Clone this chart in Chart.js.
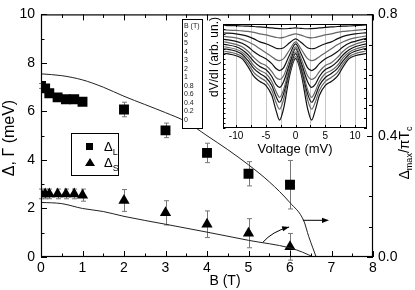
<!DOCTYPE html>
<html><head><meta charset="utf-8">
<script src="https://cdn.jsdelivr.net/npm/chart.js@4/dist/chart.umd.min.js"></script>
<style>
html,body{margin:0;padding:0;background:#fff;}
#wrap{position:relative;width:415px;height:290px;overflow:hidden;font-family:"Liberation Sans",Arial,sans-serif;color:#000;}
canvas{display:block;}
#main{position:absolute;left:0;top:0;}
#inset{position:absolute;left:160px;top:0;}
#blegend{position:absolute;left:182px;top:19px;width:21px;height:110px;border:1px solid #000;background:#fff;font-size:7px;line-height:8.55px;padding:2px 0 0 1px;box-sizing:border-box;white-space:nowrap;color:#222;filter:grayscale(100%);-webkit-font-smoothing:antialiased;}
#legend{position:absolute;left:71px;top:133px;width:48px;height:43px;border:1px solid #000;background:#fff;box-sizing:border-box;filter:grayscale(100%);-webkit-font-smoothing:antialiased;}
.lg{position:absolute;font-size:13px;line-height:14px;}
.lg sub{font-size:9px;vertical-align:0;position:relative;top:4px;}
</style></head>
<body>
<div id="wrap">
  <canvas id="main" width="415" height="290"></canvas>
  <div id="legend">
    <div style="position:absolute;left:14px;top:9px;width:7px;height:7px;background:#000"></div>
    <div class="lg" style="left:32px;top:6px;">Δ<sub>L</sub></div>
    <div style="position:absolute;left:13px;top:24px;width:0;height:0;border-left:5px solid transparent;border-right:5px solid transparent;border-bottom:8px solid #000;"></div>
    <div class="lg" style="left:32px;top:22px;">Δ<sub>S</sub></div>
  </div>
  <canvas id="inset" width="255" height="160"></canvas>
  <div id="blegend"></div>
</div>
<script>
const FONT = "'Liberation Sans', Arial, sans-serif";

// ---- main panel data ----
const B_L    = [0, 0.1, 0.2, 0.4, 0.6, 0.8, 1, 2, 3, 4, 5, 6];
const deltaL = [7.05, 6.95, 6.75, 6.58, 6.5, 6.5, 6.4, 6.08, 5.22, 4.29, 3.43, 2.98];
const errL   = [0.1, 0.1, 0.1, 0.1, 0.1, 0.1, 0.1, 0.3, 0.3, 0.4, 0.5, 1.0];
const B_S    = [0, 0.1, 0.2, 0.4, 0.6, 0.8, 1, 2, 3, 4, 5, 6];
const deltaS = [2.6, 2.6, 2.6, 2.6, 2.6, 2.6, 2.55, 2.33, 1.82, 1.35, 0.98, 0.42];
const errS   = [0.2, 0.2, 0.2, 0.2, 0.2, 0.2, 0.25, 0.45, 0.5, 0.55, 0.6, 0.55];
// theory curves, right axis (Delta_max / pi Tc)
const curveB_L = [0, 0.5, 1, 1.5, 2, 2.5, 3, 3.5, 4, 4.5, 5, 5.5, 6, 6.33, 6.45, 6.55, 6.63];
const curveL   = [0.604, 0.598, 0.584, 0.56, 0.53, 0.503, 0.476, 0.446, 0.40, 0.354, 0.304, 0.248, 0.179, 0.12, 0.068, 0.03, 0];
const curveB_S = [0, 0.5, 1, 1.5, 2, 3, 4, 5, 6, 6.3, 6.45, 6.57];
const curveS   = [0.18, 0.176, 0.16, 0.15, 0.134, 0.108, 0.082, 0.055, 0.03, 0.016, 0.007, 0];
// axis ticks
const xTicks  = [0, 1, 2, 3, 4, 5, 6, 7, 8];
const yTicks  = [0, 2, 4, 6, 8, 10];
const y2Ticks = [0, 0.4, 0.8];
// arrows (B, right-axis value)
const arrowA_B = [6.31, 6.94];        const arrowA_V = [0.121, 0.121];
const arrowB_B = [5.35, 5.57, 5.98];  const arrowB_V = [0.049, 0.084, 0.099];

// ---- inset data ----
const voltage = [-12, -10, -9, -8, -7, -6, -5, -4, -3.3, -2.7, -2, -1, 0, 1, 2, 2.7, 3.3, 4, 5, 6, 7, 8, 9, 10, 12];
const fieldLabels = ['B (T)', '6', '5', '4', '3', '2', '1', '0.8', '0.6', '0.4', '0.2', '0'];
const dVdI_6T   = [103.5,103.3,103,102.8,102.5,102,101.5,101,100.5,100.3,100.2,100.5,101,100.5,100.2,100.3,100.5,101,101.5,102,102.5,102.8,103,103.3,104];
const dVdI_5T   = [99,98.5,98,97.5,96.5,95,94,92.5,91.5,91,91.5,93.5,95,93.5,91.5,91,91.5,92.5,94,95,96.5,97.5,98,98.5,99.7];
const dVdI_4T   = [96,95,94,92.5,90,87,85,82.5,80.5,80,81,86,90,86,81,80,80.5,82.5,85,87,90,92.5,94,95,96.3];
const dVdI_3T   = [92.5,91,89.5,87,84,80,76,72,69,68,70,79,87,79,70,68,69,72,76,80,84,87,89.5,91,93];
const dVdI_2T   = [89.5,87.5,85.5,82,77,73,70,65,60,58,61,74,85,74,61,58,60,65,70,73,77,82,85.5,87.5,90.7];
const dVdI_1T   = [87,84.5,82,77.5,71,66,63,57,51,49,53,69,82,69,53,49,51,57,63,66,71,77.5,82,84.5,88];
const dVdI_08T  = [84.5,82,79,74,67,62,59,52,44,41,47,65,80,65,47,41,44,52,59,62,67,74,79,82,85.3];
const dVdI_06T  = [82,79.5,76.5,71,63,58,55,47,37,31,39,62,77,62,39,31,37,47,55,58,63,71,76.5,79.5,83];
const dVdI_04T  = [80,77.5,74.5,68,60,55,51,43,32,26,35,59,75,59,35,26,32,43,51,55,60,68,74.5,77.5,80.7];
const dVdI_02T  = [77.5,75,72,65,56,51,47,38,26,19,29,56,72,56,29,19,26,38,47,51,56,65,72,75,78];
const dVdI_0T   = [75.5,73,70,62,52,47,43,33,18,8,20,53,70,53,20,8,18,33,43,47,52,62,70,73,75.3];
const insetCurves = [dVdI_6T, dVdI_5T, dVdI_4T, dVdI_3T, dVdI_2T, dVdI_1T, dVdI_08T, dVdI_06T, dVdI_04T, dVdI_02T, dVdI_0T];
const vTicks = [-10, -5, 0, 5, 10];
const vGrid  = [-10, -7.5, -5, -2.5, 0, 2.5, 5, 7.5, 10];

document.getElementById('blegend').innerHTML = fieldLabels.join('<br>');

const pts = (xs, ys) => xs.map((x, i) => ({x, y: ys[i]}));

// ---------- plugins ----------
const errorBars = {
  id: 'errorBars',
  beforeDatasetsDraw(chart) {
    const {ctx} = chart;
    chart.data.datasets.forEach((ds, di) => {
      if (!ds.errs) return;
      const meta = chart.getDatasetMeta(di);
      const ys = chart.scales[meta.yAxisID];
      ctx.save();
      ctx.strokeStyle = '#777'; ctx.lineWidth = 1;
      meta.data.forEach((p, i) => {
        const v = ds.data[i].y, e = ds.errs[i];
        const x = Math.round(p.x) + 0.5;
        const t = ys.getPixelForValue(v + e), b = ys.getPixelForValue(v - e);
        ctx.beginPath();
        ctx.moveTo(x, t); ctx.lineTo(x, b);
        ctx.moveTo(x - 2.5, t); ctx.lineTo(x + 2.5, t);
        ctx.moveTo(x - 2.5, b); ctx.lineTo(x + 2.5, b);
        ctx.stroke();
      });
      ctx.restore();
    });
  }
};

function arrowHead(ctx, x0, y0, x1, y1) {
  const a = Math.atan2(y1 - y0, x1 - x0), L = 7, W = 2.6;
  ctx.beginPath();
  ctx.moveTo(x1, y1);
  ctx.lineTo(x1 - L * Math.cos(a) + W * Math.sin(a), y1 - L * Math.sin(a) - W * Math.cos(a));
  ctx.lineTo(x1 - L * Math.cos(a) - W * Math.sin(a), y1 - L * Math.sin(a) + W * Math.cos(a));
  ctx.closePath(); ctx.fill();
}

const mainDeco = {
  id: 'mainDeco',
  afterDatasetsDraw(chart) {
    const {ctx, chartArea: a, scales} = chart;
    const X = scales.x, Y = scales.y, Y2 = scales.y2;
    ctx.save();
    ctx.strokeStyle = '#000'; ctx.fillStyle = '#000'; ctx.lineWidth = 1;
    const ax0 = X.getPixelForValue(arrowA_B[0]), ay = Y2.getPixelForValue(arrowA_V[0]);
    const ax1 = X.getPixelForValue(arrowA_B[1]);
    ctx.beginPath(); ctx.moveTo(ax0, ay); ctx.lineTo(ax1 - 4, ay); ctx.stroke();
    arrowHead(ctx, ax0, ay, ax1, ay);
    const b0 = [X.getPixelForValue(arrowB_B[0]), Y2.getPixelForValue(arrowB_V[0])];
    const bc = [X.getPixelForValue(arrowB_B[1]), Y2.getPixelForValue(arrowB_V[1])];
    const b1 = [X.getPixelForValue(arrowB_B[2]), Y2.getPixelForValue(arrowB_V[2])];
    ctx.beginPath(); ctx.moveTo(b0[0], b0[1]); ctx.quadraticCurveTo(bc[0], bc[1], b1[0], b1[1]); ctx.stroke();
    arrowHead(ctx, bc[0], bc[1], b1[0], b1[1]);
    ctx.lineWidth = 1.2;
    ctx.strokeRect(a.left + 0.5, a.top + 0.5, a.right - a.left - 1, a.bottom - a.top - 1);
    ctx.lineWidth = 1;
    ctx.beginPath();
    for (let v = 0; v <= 8.001; v += 0.5) {
      const x = Math.round(X.getPixelForValue(v)) + 0.5;
      const L = Math.abs(v - Math.round(v)) < 1e-6 ? 6 : 3.5;
      ctx.moveTo(x, a.bottom); ctx.lineTo(x, a.bottom - L);
      ctx.moveTo(x, a.top); ctx.lineTo(x, a.top + L);
    }
    for (let v = 0; v <= 10.001; v += 1) {
      const y = Math.round(Y.getPixelForValue(v)) + 0.5;
      const L = v % 2 === 0 ? 6 : 3.5;
      ctx.moveTo(a.left, y); ctx.lineTo(a.left + L, y);
    }
    for (let k = 0; k <= 8; k++) {
      const y = Math.round(Y2.getPixelForValue(k / 10)) + 0.5;
      const L = k % 4 === 0 ? 6 : 4;
      ctx.moveTo(a.right, y); ctx.lineTo(a.right - L, y);
    }
    ctx.stroke();
    ctx.restore();
  },
  afterDraw(chart) {
    const {ctx} = chart;
    ctx.save();
    ctx.fillStyle = '#000';
    ctx.textBaseline = 'middle'; ctx.textAlign = 'center';
    ctx.font = `14px ${FONT}`;
    ctx.fillText('B (T)', 225, 281);
    ctx.save();
    ctx.translate(10, 138); ctx.rotate(-Math.PI / 2);
    ctx.font = `16px ${FONT}`;
    ctx.fillText('Δ, Γ (meV)', 0, 0);
    ctx.restore();
    const parts = [['Δ', 14, 0], ['max', 9, 3], ['/πT', 14, 0], ['c', 9, 3]];
    let w = 0;
    parts.forEach(p => { ctx.font = `${p[1]}px ${FONT}`; p.push(ctx.measureText(p[0]).width); w += p[3]; });
    ctx.translate(409, 153); ctx.rotate(-Math.PI / 2);
    ctx.textAlign = 'left'; ctx.textBaseline = 'alphabetic';
    let cx = -w / 2;
    parts.forEach(p => { ctx.font = `${p[1]}px ${FONT}`; ctx.fillText(p[0], cx, p[2]); cx += p[3]; });
    ctx.restore();
  }
};

const tickFont = {family: FONT, size: 14};
new Chart(document.getElementById('main'), {
  type: 'scatter',
  data: {
    datasets: [
      {data: pts(curveB_L, curveL), yAxisID: 'y2', showLine: true, borderColor: '#222', borderWidth: 1, pointRadius: 0, cubicInterpolationMode: 'monotone'},
      {data: pts(curveB_S, curveS), yAxisID: 'y2', showLine: true, borderColor: '#222', borderWidth: 1, pointRadius: 0, cubicInterpolationMode: 'monotone'},
      {data: pts(B_L, deltaL), errs: errL, yAxisID: 'y', pointStyle: 'rect', pointRadius: 7, backgroundColor: '#000', borderColor: '#000', borderWidth: 0},
      {data: pts(B_S, deltaS), errs: errS, yAxisID: 'y', pointStyle: 'triangle', pointRadius: 6.5, backgroundColor: '#000', borderColor: '#000', borderWidth: 0}
    ]
  },
  options: {
    responsive: false, animation: false, events: [],
    layout: {padding: {top: 12, left: 0, right: 0, bottom: 0}},
    plugins: {legend: {display: false}, tooltip: {enabled: false}},
    scales: {
      x: {type: 'linear', position: 'bottom', min: 0, max: 8,
          afterBuildTicks: s => { s.ticks = xTicks.map(v => ({value: v})); },
          afterFit: s => { s.height = 33; },
          grid: {display: false, drawTicks: false}, border: {display: false},
          ticks: {font: tickFont, color: '#000', padding: 3, maxRotation: 0, autoSkip: false}},
      y: {type: 'linear', position: 'left', min: 0, max: 10,
          afterBuildTicks: s => { s.ticks = yTicks.map(v => ({value: v})); },
          afterFit: s => { s.width = 41; },
          grid: {display: false, drawTicks: false}, border: {display: false},
          ticks: {font: tickFont, color: '#000', padding: 6}},
      y2: {type: 'linear', position: 'right', min: 0, max: 0.8,
          afterBuildTicks: s => { s.ticks = y2Ticks.map(v => ({value: v})); },
          afterFit: s => { s.width = 42; },
          grid: {display: false, drawTicks: false}, border: {display: false},
          ticks: {font: tickFont, color: '#000', padding: 5, callback: v => v.toFixed(1)}}
    }
  },
  plugins: [errorBars, mainDeco]
});

// ---------- inset ----------
const insetDeco = {
  id: 'insetDeco',
  beforeDatasetsDraw(chart) {
    const {ctx, chartArea: a, scales} = chart;
    ctx.save();
    ctx.fillStyle = '#fff';
    ctx.fillRect(a.left, a.top, a.right - a.left, a.bottom - a.top);
    ctx.strokeStyle = '#c8c8c8'; ctx.lineWidth = 1;
    ctx.beginPath();
    vGrid.forEach(v => { const x = Math.round(scales.x.getPixelForValue(v)) + 0.5; ctx.moveTo(x, a.top); ctx.lineTo(x, a.bottom); });
    ctx.stroke();
    ctx.restore();
  },
  afterDatasetsDraw(chart) {
    const {ctx, chartArea: a, scales} = chart;
    ctx.save();
    ctx.strokeStyle = '#000'; ctx.lineWidth = 1;
    ctx.strokeRect(a.left + 0.5, a.top + 0.5, a.right - a.left - 1, a.bottom - a.top - 1);
    ctx.beginPath();
    vGrid.forEach(v => {
      const x = Math.round(scales.x.getPixelForValue(v)) + 0.5;
      ctx.moveTo(x, a.bottom); ctx.lineTo(x, a.bottom - 3);
      ctx.moveTo(x, a.top); ctx.lineTo(x, a.top + 3);
    });
    for (let v = 0; v <= 105; v += 5) {
      const y = Math.round(scales.y.getPixelForValue(v)) + 0.5;
      ctx.moveTo(a.left, y); ctx.lineTo(a.left + 2.5, y);
      if (v % 10 === 0) { ctx.moveTo(a.right, y); ctx.lineTo(a.right - 3, y); }
    }
    ctx.stroke();
    ctx.restore();
  },
  afterDraw(chart) {
    const {ctx} = chart;
    ctx.save();
    ctx.fillStyle = '#000'; ctx.textAlign = 'center'; ctx.textBaseline = 'middle';
    ctx.font = `13px ${FONT}`;
    ctx.fillText('Voltage (mV)', 135, 149);
    ctx.translate(55, 57); ctx.rotate(-Math.PI / 2);
    ctx.font = `12px ${FONT}`;
    ctx.fillText('dV/dI (arb. un.)', 0, 0);
    ctx.restore();
  }
};

new Chart(document.getElementById('inset'), {
  type: 'scatter',
  data: {
    datasets: insetCurves.map((c, i) => ({
      data: pts(voltage, c), showLine: true, pointRadius: 0,
      borderColor: i % 2 ? '#666' : '#111', borderWidth: 1.2,
      cubicInterpolationMode: 'monotone'
    }))
  },
  options: {
    responsive: false, animation: false, events: [],
    layout: {padding: {top: 24, right: 48, left: 0, bottom: 0}},
    plugins: {legend: {display: false}, tooltip: {enabled: false}},
    scales: {
      x: {type: 'linear', min: -12.2, max: 12,
          afterBuildTicks: s => { s.ticks = vTicks.map(v => ({value: v})); },
          afterFit: s => { s.height = 32; },
          grid: {display: false, drawTicks: false}, border: {display: false},
          ticks: {font: {family: FONT, size: 10}, color: '#000', padding: 2, maxRotation: 0, autoSkip: false}},
      y: {type: 'linear', min: 0, max: 105,
          afterFit: s => { s.width = 63; },
          grid: {display: false, drawTicks: false}, border: {display: false},
          ticks: {display: false}}
    }
  },
  plugins: [insetDeco]
});
</script>
</body></html>
